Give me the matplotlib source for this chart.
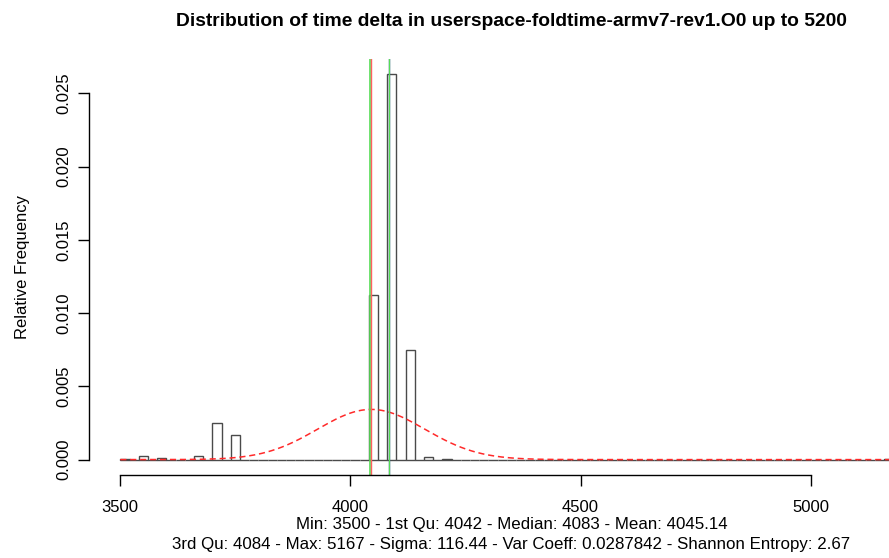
import matplotlib
matplotlib.use("Agg")
import matplotlib.pyplot as plt
import numpy as np

plt.rcParams['font.family'] = ['Liberation Sans', 'DejaVu Sans']

# histogram: bins of width 20 from 3500 to 5200 (relative frequency density)
bin_start = 3500
bin_end = 5200
bin_width = 20
nonzero_bins = [3500, 3540, 3580, 3660, 3700, 3740, 4040, 4080, 4120, 4160, 4200, 5160]
nonzero_heights = [0.00003, 0.00027, 0.00014, 0.00022, 0.0025, 0.0017,
                   0.01125, 0.0263, 0.0075, 0.00015, 0.00006, 0.00003]

# summary stats shown under the plot
v_min = 3500
q1 = 4042
median = 4083
mean = 4045.14
q3 = 4084
v_max = 5167
sigma = 116.44
var_coeff = 0.0287842
entropy = 2.67

xticks = [3500, 4000, 4500, 5000]
yticks = [0.000, 0.005, 0.010, 0.015, 0.020, 0.025]

edges = np.arange(bin_start, bin_end, bin_width)
heights = np.zeros(len(edges))
for b, h in zip(nonzero_bins, nonzero_heights):
    heights[(b - bin_start) // bin_width] = h

fig = plt.figure(figsize=(8.89, 5.58), dpi=100)
ax = fig.add_axes([89 / 889, 83 / 558, 845 / 889, 416 / 558])

ax.bar(edges, heights, width=bin_width, align='edge', fill=False,
       edgecolor='#4a4a4a', linewidth=1.0)

# normal curve from mean / sigma
xs = np.linspace(bin_start, bin_end, 600)
ys = np.exp(-0.5 * ((xs - mean) / sigma) ** 2) / (sigma * np.sqrt(2 * np.pi))
ax.plot(xs, ys, color='#ff2a2a', linestyle=(0, (4, 2.5)), linewidth=1.1)

ax.axvline(q1, color='#55dd55', linewidth=1.2)
ax.axvline(mean, color='#ff6060', linewidth=1.0)
ax.axvline(median, color='#3a3aa8', linewidth=1.0)
ax.axvline(q3, color='#55dd55', linewidth=0.9)

span_x = bin_end - bin_start
ax.set_xlim(bin_start - 0.04 * span_x, bin_end + 0.04 * span_x)
ymax = max(nonzero_heights)
ax.set_ylim(-0.04 * ymax, ymax * 1.04)

for s in ['top', 'right']:
    ax.spines[s].set_visible(False)
ax.spines['left'].set_bounds(yticks[0], yticks[-1])
ax.spines['bottom'].set_bounds(xticks[0], xticks[-1])
ax.spines['left'].set_linewidth(1.0)
ax.spines['bottom'].set_linewidth(1.0)

ax.set_xticks(xticks)
ax.set_xticklabels([str(t) for t in xticks])
ax.set_yticks(yticks)
ax.set_yticklabels(['%.3f' % t for t in yticks], rotation=90, va='center')
ax.tick_params(axis='both', length=8, width=1.0, labelsize=12)
ax.tick_params(axis='x', pad=10)
ax.tick_params(axis='y', pad=5)

ax.set_ylabel('Relative Frequency', fontsize=12, labelpad=19)
ax.set_title('Distribution of time delta in userspace-foldtime-armv7-rev1.O0 up to 5200',
             fontsize=13.9, fontweight='bold', pad=24)

cx = (89 + 845 / 2) / 889
fig.text(cx, 1 - 524 / 558,
         'Min: %d - 1st Qu: %d - Median: %d - Mean: %.2f' % (v_min, q1, median, mean),
         ha='center', va='center', fontsize=12.2)
fig.text(cx, 1 - 544 / 558,
         '3rd Qu: %d - Max: %d - Sigma: %.2f - Var Coeff: %s - Shannon Entropy: %.2f'
         % (q3, v_max, sigma, var_coeff, entropy),
         ha='center', va='center', fontsize=12.2)

fig.savefig('out.png', dpi=100)
